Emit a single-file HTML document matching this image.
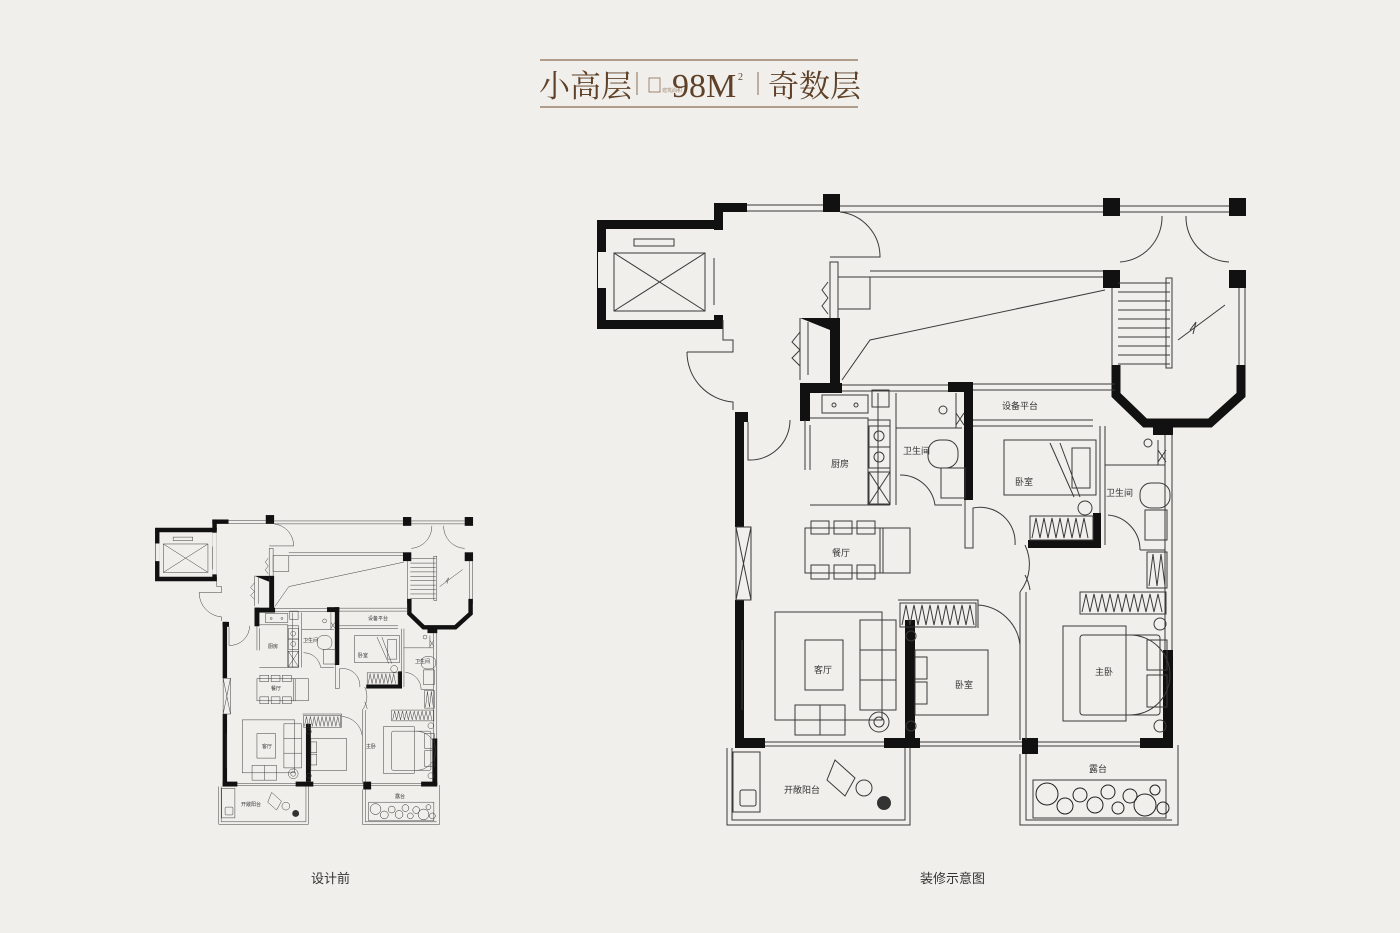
<!DOCTYPE html>
<html><head><meta charset="utf-8"><style>
html,body{margin:0;padding:0;background:#f1efeb;}
svg{display:block;}
.t{font-family:"Liberation Serif","Noto Serif CJK SC",serif;}
.s{font-family:"Liberation Sans","Noto Sans CJK SC",sans-serif;}
</style></head><body>
<svg width="1400" height="933" viewBox="0 0 1400 933" xmlns="http://www.w3.org/2000/svg">
<rect width="1400" height="933" fill="#f1efeb"/>
<!-- title -->
<line x1="540" y1="60" x2="858" y2="60" stroke="#8a6d50" stroke-width="1.2"/>
<line x1="540" y1="107" x2="858" y2="107" stroke="#8a6d50" stroke-width="1.2"/>
<text x="539" y="97" class="t" font-size="31" fill="#5e4128">小高层</text>
<line x1="637" y1="72" x2="637" y2="95" stroke="#8a6d50" stroke-width="1"/>
<rect x="649" y="78" width="11" height="14" fill="none" stroke="#8a6d50" stroke-width="0.8"/>
<text x="662" y="92" class="t" font-size="5" fill="#8a6d50">建筑面积</text>
<text x="672" y="97" class="t" font-size="34" fill="#5e4128">98M</text>
<text x="738" y="80" class="t" font-size="10" fill="#5e4128">2</text>
<line x1="758" y1="72" x2="758" y2="95" stroke="#8a6d50" stroke-width="1"/>
<text x="768" y="97" class="t" font-size="31" fill="#5e4128">奇数层</text>

<defs>
<g id="plan" fill="none" stroke="#3a3a3a" stroke-width="1">
 <!-- elevator -->
 <path d="M597 220H723V329H597Z M606 229H714V320H606Z" fill="#111" fill-rule="evenodd" stroke="none"/>
 <rect x="598" y="252" width="8" height="36" fill="#f1efeb" stroke="none"/>
 <rect x="714" y="230" width="9" height="85" fill="#f1efeb" stroke="none"/>
 <line x1="714" y1="258" x2="714" y2="305"/>
 <rect x="614" y="253" width="91" height="58"/>
 <path d="M614 253L705 311M705 253L614 311"/>
 <rect x="634" y="239" width="40" height="7"/>
 <!-- corridor -->
 <rect x="714" y="203" width="33" height="9" fill="#111" stroke="none"/>
 <rect x="714" y="203" width="9" height="22" fill="#111" stroke="none"/>
 <rect x="823" y="194" width="17" height="18" fill="#111" stroke="none"/>
 <rect x="1103" y="198" width="17" height="18" fill="#111" stroke="none"/>
 <rect x="1229" y="198" width="17" height="18" fill="#111" stroke="none"/>
 <path d="M747 205H823M747 211H823M840 206H1103M840 212H1103M1120 206H1229M1120 212H1229"/>
 <path d="M723 320V340H733V352H687"/>
 <path d="M687 352A50 50 0 0 0 733 402V410"/>
 <path d="M840 212A45 45 0 0 1 880 257H830"/>
 <path d="M1162 216A45 45 0 0 1 1120 262M1186 216A45 45 0 0 0 1229 262"/>
 <!-- second corridor -->
 <rect x="830" y="262" width="8" height="60"/>
 <rect x="838" y="277" width="32" height="32"/>
 <path d="M870 271H1103M870 277H1103"/>
 <path d="M1105 290L870 340L842 380"/>
 <rect x="830" y="318" width="10" height="72" fill="#111" stroke="none"/>
 <path d="M800 318H830L830 330Z" fill="#111" stroke="none"/>
 <path d="M800 318V380M808 322V375M828 282L822 290L828 298M828 298L822 306L828 314M800 332L792 342L800 350M800 350L792 358L800 366"/>
 <!-- stair -->
 <rect x="1103" y="270" width="17" height="18" fill="#111" stroke="none"/>
 <rect x="1229" y="270" width="17" height="18" fill="#111" stroke="none"/>
 <path d="M1112 288V375M1245 288V375M1239 288V375"/>
 <path d="M1118 283H1170M1118 292H1170M1118 301H1170M1118 310H1170M1118 319H1170M1118 328H1170M1118 337H1170M1118 346H1170M1118 355H1170M1118 364H1170"/>
 <rect x="1166" y="278" width="6" height="90"/>
 <path d="M1178 340L1225 305M1190 330L1196 322L1193 334"/>
 <polyline points="1116,365 1116,395 1145,423 1210,423 1241,395 1241,365" stroke="#111" stroke-width="9"/>
 <!-- unit top -->
 <rect x="800" y="383" width="42" height="10" fill="#111" stroke="none"/>
 <rect x="800" y="383" width="10" height="38" fill="#111" stroke="none"/>
 <path d="M842 385H948M842 391H948M973 384H1115M973 390H1115"/>
 <rect x="948" y="382" width="25" height="10" fill="#111" stroke="none"/>
 <rect x="964" y="382" width="9" height="118" fill="#111" stroke="none"/>
 <path d="M973 420H1093M973 426H1093"/>
 <rect x="1153" y="425" width="20" height="10" fill="#111" stroke="none"/>
 <!-- left wall -->
 <rect x="735" y="412" width="13" height="10" fill="#111" stroke="none"/>
 <rect x="735" y="412" width="9" height="115" fill="#111" stroke="none"/>
 <rect x="735" y="600" width="9" height="148" fill="#111" stroke="none"/>
 <rect x="736" y="527" width="15" height="73"/>
 <path d="M736 527L751 600M751 527L736 600"/>
 <path d="M748 422V460A40 40 0 0 0 790 420"/>
 <!-- right wall -->
 <path d="M1165 435V745M1172 435V650"/>
 <rect x="1163" y="650" width="10" height="95" fill="#111" stroke="none"/>
 <!-- bottom wall -->
 <path d="M744 742H1165M744 746H1165"/>
 <rect x="735" y="738" width="30" height="10" fill="#111" stroke="none"/>
 <rect x="884" y="738" width="36" height="10" fill="#111" stroke="none"/>
 <rect x="1022" y="738" width="16" height="16" fill="#111" stroke="none"/>
 <rect x="1140" y="738" width="33" height="10" fill="#111" stroke="none"/>
 <!-- kitchen -->
 <rect x="822" y="395" width="46" height="18"/>
 <circle cx="834" cy="405" r="2"/><circle cx="856" cy="405" r="2"/>
 <path d="M810 418H868V505M868 418V503M878 393V505M868 420H890V505M810 505H890"/>
 <rect x="872" y="390" width="17" height="17"/>
 <rect x="869" y="426" width="21" height="21"/><circle cx="879" cy="436" r="5"/>
 <rect x="869" y="447" width="21" height="21"/><circle cx="879" cy="457" r="5"/>
 <rect x="869" y="472" width="21" height="32"/><path d="M869 472L890 504M890 472L869 504"/>
 <path d="M805 420V470M810 425V470"/>
 <!-- bath1 -->
 <path d="M896 393V505M896 428H962M900 475A35 35 0 0 1 935 505H962"/>
 <rect x="928" y="440" width="30" height="28" rx="12"/>
 <rect x="941" y="468" width="24" height="30"/>
 <circle cx="943" cy="410" r="4"/>
 <path d="M956 393V428M956 413L964 425M964 413L956 425"/>
 <!-- bedroom1 -->
 <path d="M965 500V548H973V508A35 35 0 0 1 1015 545"/>
 <rect x="1004" y="440" width="92" height="55"/>
 <path d="M1050 443L1074 497M1060 443L1080 497"/>
 <rect x="1072" y="448" width="18" height="40"/>
 <circle cx="1085" cy="508" r="7"/>
 <path d="M1100 426V515"/>
 <rect x="1093" y="513" width="8" height="34" fill="#111" stroke="none"/>
 <rect x="1028" y="540" width="73" height="8" fill="#111" stroke="none"/>
 <rect x="1030" y="516" width="63" height="24"/>
 <path d="M1032 538L1036 518L1040 538L1044 518L1048 538L1052 518L1056 538L1060 518L1064 538L1068 518L1072 538L1076 518L1080 538L1084 518L1088 538"/>
 <!-- bath2 -->
 <path d="M1105 426V545M1105 465H1165M1108 515A35 35 0 0 1 1140 550V550M1140 550H1165"/>
 <circle cx="1148" cy="443" r="4"/>
 <path d="M1158 440V465M1158 450L1166 462M1166 450L1158 462"/>
 <rect x="1140" y="483" width="30" height="25" rx="11"/>
 <rect x="1145" y="510" width="22" height="30"/>
 <rect x="1147" y="552" width="20" height="36"/>
 <path d="M1149 586L1153 554L1157 586L1161 554L1165 586"/>
 <!-- dining -->
 <rect x="805" y="528" width="78" height="45"/>
 <rect x="880" y="528" width="30" height="45"/>
 <rect x="811" y="521" width="18" height="13"/><rect x="834" y="521" width="18" height="13"/><rect x="857" y="521" width="18" height="13"/>
 <rect x="811" y="565" width="18" height="14"/><rect x="834" y="565" width="18" height="14"/><rect x="857" y="565" width="18" height="14"/>
 <path d="M1025 575A45 45 0 0 1 1030 590"/>
 <path d="M1020 592V740M1026 592V740"/>
 <path d="M1020 592A45 45 0 0 0 1025 545"/>
 <!-- living -->
 <rect x="775" y="612" width="107" height="108"/>
 <rect x="805" y="640" width="38" height="50"/>
 <rect x="860" y="620" width="36" height="90"/>
 <path d="M860 650H896M860 680H896"/>
 <rect x="795" y="705" width="50" height="30"/><path d="M820 705V735"/>
 <circle cx="879" cy="722" r="10"/><circle cx="879" cy="722" r="5"/>
 <path d="M742 640V710"/>
 <!-- bedroom2 -->
 <rect x="905" y="620" width="10" height="118" fill="#111" stroke="none"/>
 <path d="M898 600H978V628"/>
 <rect x="900" y="603" width="76" height="24"/>
 <path d="M902 625L906 605L910 625L914 605L918 625L922 605L926 625L930 605L934 625L938 605L942 625L946 605L950 625L954 605L958 625L962 605L966 625L970 605L974 625"/>
 <path d="M978 605A45 45 0 0 1 1020 645"/>
 <rect x="915" y="650" width="73" height="65"/>
 <rect x="915" y="657" width="12" height="22"/><rect x="915" y="682" width="12" height="22"/>
 <circle cx="911" cy="636" r="5"/><circle cx="911" cy="726" r="5"/>
 <!-- master -->
 <rect x="1080" y="592" width="86" height="22"/>
 <path d="M1082 612L1086 594L1090 612L1094 594L1098 612L1102 594L1106 612L1110 594L1114 612L1118 594L1122 612L1126 594L1130 612L1134 594L1138 612L1142 594L1146 612L1150 594L1154 612L1158 594L1162 612"/>
 <rect x="1063" y="626" width="63" height="95"/>
 <rect x="1080" y="635" width="80" height="80" rx="3"/>
 <path d="M1130 635A40 40 0 0 1 1130 715"/>
 <rect x="1147" y="640" width="20" height="30"/><rect x="1147" y="675" width="20" height="32"/>
 <circle cx="1160" cy="624" r="6"/><circle cx="1160" cy="726" r="6"/>
 <!-- balconies -->
 <path d="M727 748V825H910V748M732 748V820H905V748"/>
 <rect x="733" y="752" width="27" height="60"/>
 <rect x="740" y="790" width="16" height="16" rx="2"/>
 <path d="M835 760L855 778L845 796L827 780Z"/>
 <circle cx="864" cy="788" r="8"/>
 <circle cx="884" cy="803" r="7" fill="#333" stroke="none"/>
 <path d="M1020 754V825H1178V745M1026 754V820H1172"/>
 <rect x="1033" y="780" width="133" height="38"/>
 <g fill="none" stroke="#222">
  <circle cx="1047" cy="794" r="11"/><circle cx="1065" cy="806" r="8"/><circle cx="1080" cy="795" r="7"/><circle cx="1095" cy="805" r="8"/><circle cx="1108" cy="792" r="7"/><circle cx="1118" cy="808" r="6"/><circle cx="1130" cy="796" r="7"/><circle cx="1145" cy="805" r="11"/><circle cx="1163" cy="808" r="6"/><circle cx="1155" cy="790" r="5"/>
 </g>
</g>
</defs>
<use href="#plan"/>
<use href="#plan" transform="translate(-137.5,420) scale(0.49)"/>

<g class="s" font-size="9" fill="#333">
<text x="831" y="467">厨房</text>
<text x="903" y="454">卫生间</text>
<text x="1002" y="409">设备平台</text>
<text x="1015" y="485">卧室</text>
<text x="1106" y="496">卫生间</text>
<text x="832" y="556">餐厅</text>
<text x="814" y="673">客厅</text>
<text x="955" y="688">卧室</text>
<text x="1095" y="675">主卧</text>
<text x="784" y="793">开敞阳台</text>
<text x="1089" y="772">露台</text>
</g>
<g class="s" font-size="5" fill="#333">
<text x="268" y="648">厨房</text><text x="303" y="642">卫生间</text><text x="368" y="620">设备平台</text>
<text x="358" y="657">卧室</text><text x="415" y="663">卫生间</text><text x="271" y="690">餐厅</text>
<text x="262" y="748">客厅</text><text x="366" y="748">主卧</text><text x="241" y="806">开敞阳台</text><text x="395" y="798">露台</text>
</g>
<text x="311" y="883" class="s" font-size="13" fill="#333">设计前</text>
<text x="920" y="883" class="s" font-size="13" fill="#333">装修示意图</text>
</svg>
</body></html>
